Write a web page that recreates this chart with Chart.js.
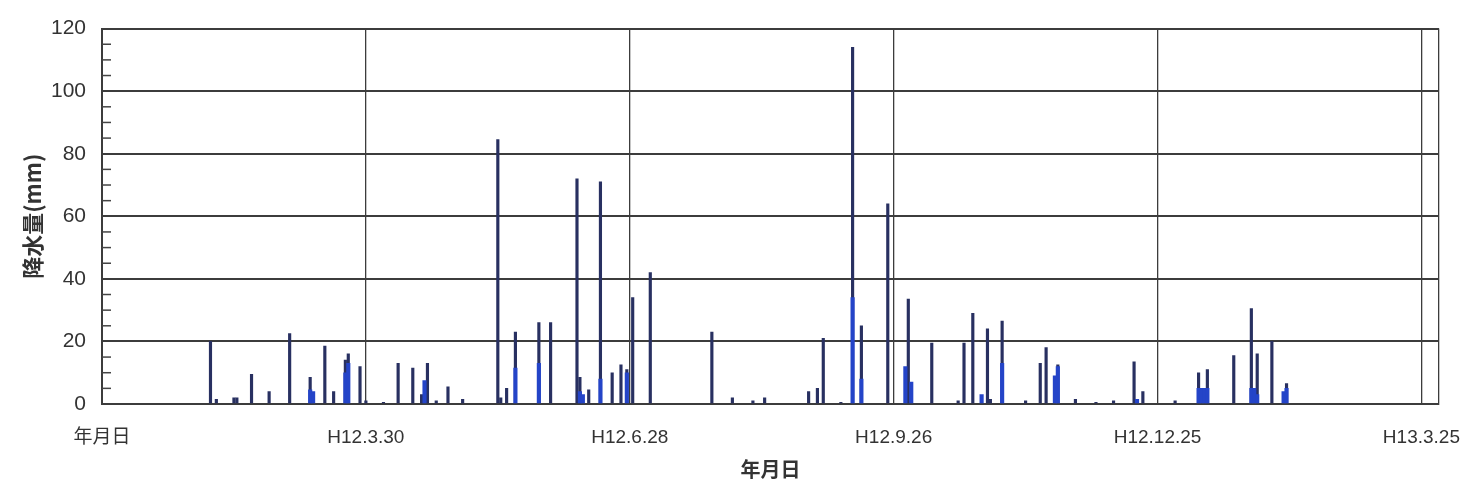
<!DOCTYPE html>
<html>
<head>
<meta charset="utf-8">
<script src="https://cdn.jsdelivr.net/npm/chart.js@4.4.1/dist/chart.umd.min.js"></script>
<style>
  html, body { margin: 0; padding: 0; background: #fff; }
</style>
</head>
<body>
<canvas id="rainChart" width="1461" height="495"></canvas>
<script>
// day 0 = H11.12.31, one step = one day
const rainDays = [37, 39, 45, 46, 51, 57, 64, 71, 72, 76, 79, 83, 84, 88, 90, 96, 101, 106, 109, 110, 111, 114, 118, 123,
  135, 136, 138, 141, 149, 153, 162, 163, 164, 166, 170, 174, 177, 179, 181, 187,
  208, 215, 222, 226, 241, 244, 246, 252, 256, 259, 268, 274, 275, 276, 283,
  292, 294, 297, 300, 302, 303, 307, 315, 320, 322, 325, 326, 332, 339, 345, 352, 353, 355,
  366, 374, 375, 376, 377, 386, 392, 393, 394, 399, 403, 404];
const rainDark = [20, 1.5, 2, 2, 9.5, 4, 22.5, 8.5, null, 18.5, 4, 14, 16, 12, 1, 0.5, 13, 11.5, 3, null, 13, 1, 5.5, 1.5,
  84.5, 2, 5, 23, 26, 26, 72, 8.5, null, 4.5, 71, 10, 12.5, 11, 34, 42,
  23, 2, 1, 2, 4, 5, 21, 0.5, 114, 25, 64, null, 33.5, null, 19.5,
  1, 19.5, 29, null, 24, 1.5, 26.5, 1, 13, 18, null, 12.5, 1.5, 0.5, 1, 13.5, null, 4,
  1, 10, null, null, 11, 15.5, 30.5, null, 16, 20, null, 6.5];
const rainBlue = [null, null, null, null, null, null, null, 4.5, 4, null, null, 10, 13, null, null, null, null, null, null, 7.5, null, null, null, null,
  null, null, null, 11.5, 13, null, null, 4, 3, null, 8, null, null, 10, null, null,
  null, null, null, null, null, null, null, null, 34, 8, null, 12, null, 7, null,
  null, null, null, 3, null, null, 13, null, null, null, 9, 12, null, null, null, null, 1.5, null,
  null, 5, 5, 5, 5, null, 5, 5, 3, null, 4, 5];

const xTickDays = [0, 90, 180, 270, 360, 450];
const xTickLabels = ['年月日', 'H12.3.30', 'H12.6.28', 'H12.9.26', 'H12.12.25', 'H13.3.25'];
const xEndDay = 456;

function toPoints(values) {
  const pts = [];
  rainDays.forEach((d, i) => {
    if (values[i] !== null) pts.push({x: d, y: values[i]});
  });
  return pts;
}

const xTickFont = {family: '"Liberation Sans", "Noto Sans CJK JP", sans-serif', size: 19};
const yTickFont = {family: '"Liberation Sans", sans-serif', size: 21};
const textColor = '#333';
const lineColor = '#3c3c3c';

// little inner ticks every 5 on the left axis
const minorTicks = {
  id: 'minorTicks',
  afterDraw(chart) {
    const y = chart.scales.y;
    const ctx = chart.ctx;
    const left = chart.chartArea.left;
    ctx.save();
    ctx.strokeStyle = '#444';
    ctx.lineWidth = 1.5;
    y.ticks.forEach(t => {
      if (t.value % 20 !== 0) {
        const py = y.getPixelForValue(t.value);
        ctx.beginPath();
        ctx.moveTo(left, py);
        ctx.lineTo(left + 9, py);
        ctx.stroke();
      }
    });
    ctx.restore();
  }
};

const ctx = document.getElementById('rainChart').getContext('2d');
const rainChart = new Chart(ctx, {
  type: 'bar',
  data: {
    datasets: [
      {
        label: 'blue',
        data: toPoints(rainBlue),
        backgroundColor: '#2444c8',
        barThickness: 3.5,
        grouped: false
      },
      {
        label: 'dark',
        data: toPoints(rainDark),
        backgroundColor: '#283061',
        barThickness: 2.5,
        grouped: false
      }
    ]
  },
  options: {
    responsive: false,
    animation: false,
    layout: {padding: {top: 28, right: 21, left: 0, bottom: 0}},
    plugins: {legend: {display: false}, tooltip: {enabled: false}},
    scales: {
      x: {
        type: 'linear',
        offset: false,
        min: 0,
        max: xEndDay,
        afterBuildTicks: scale => {
          scale.ticks = xTickDays.concat([xEndDay]).map(v => ({value: v}));
        },
        afterFit: scale => { scale.height = 91; },
        ticks: {
          autoSkip: false,
          maxRotation: 0,
          padding: 22,
          color: textColor,
          font: xTickFont,
          callback: v => {
            const i = xTickDays.indexOf(v);
            return i >= 0 ? xTickLabels[i] : '';
          }
        },
        grid: {color: lineColor, lineWidth: 1.3, drawTicks: false, offset: false},
        border: {display: true, color: lineColor, width: 2},
        title: {
          display: true,
          text: '年月日',
          color: textColor,
          font: {family: '"Noto Sans CJK JP", sans-serif', size: 20, weight: 'bold'},
          padding: {top: 0, bottom: 14}
        }
      },
      y: {
        min: 0,
        max: 120,
        afterFit: scale => { scale.width = 102; },
        ticks: {
          stepSize: 5,
          autoSkip: false,
          padding: 16,
          color: textColor,
          font: yTickFont,
          callback: v => (v % 20 === 0 ? v : '')
        },
        grid: {
          color: c => (c.tick.value % 20 === 0 ? lineColor : 'rgba(0,0,0,0)'),
          lineWidth: 2,
          drawTicks: false
        },
        border: {display: true, color: lineColor, width: 2},
        title: {
          display: true,
          text: '降水量(mm)',
          color: textColor,
          font: {family: '"Noto Sans CJK JP", sans-serif', size: 22, weight: 'bold'},
          padding: {top: 19, bottom: 0}
        }
      }
    }
  },
  plugins: [minorTicks]
});
</script>
</body>
</html>
